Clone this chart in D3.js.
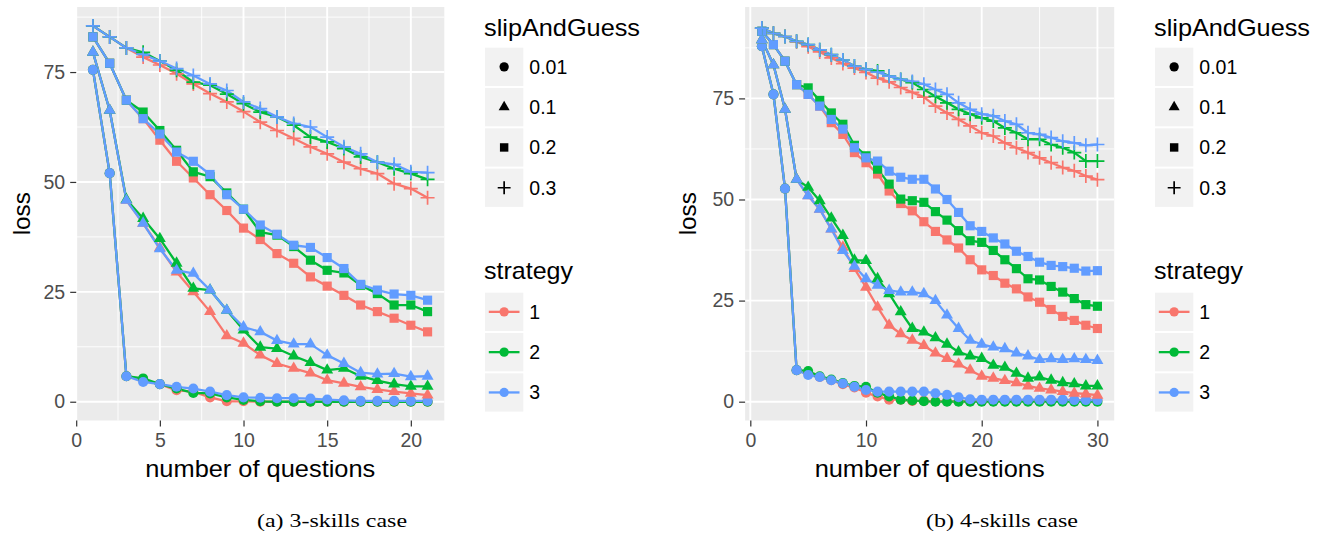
<!DOCTYPE html>
<html><head><meta charset="utf-8">
<script src="https://cdn.jsdelivr.net/npm/d3@7"></script>
<style>body{margin:0;background:#fff}svg{display:block}</style>
</head><body>
<svg id="c" width="1321" height="537"></svg>
<script>
// ---------- categories / ticks ----------
const questions3 = [1,2,3,4,5,6,7,8,9,10,11,12,13,14,15,16,17,18,19,20,21];
const questions4 = [1,2,3,4,5,6,7,8,9,10,11,12,13,14,15,16,17,18,19,20,21,22,23,24,25,26,27,28,29,30];
const strategies = ["1","2","3"];
const slipLevels = ["0.01","0.1","0.2","0.3"];
const yTicks = [0,25,50,75];
const yMinor = [12.5,37.5,62.5,87.5];
const xTicks3 = [0,5,10,15,20];
const xMinor3 = [2.5,7.5,12.5,17.5];
const xTicks4 = [0,10,20,30];
const xMinor4 = [5,15,25];

// ---------- 3-skills case (a) ----------
const loss3_s1_g001 = [75.5,52,5.8,5.0,4.0,2.6,2.3,1.0,0.1,0.1,0,0,0,0,0,0,0,0,0,0,0];
const loss3_s2_g001 = [75.5,52,5.8,5.3,4.0,3.0,2.0,1.9,1.0,0.4,0.1,0,0,0,0,0,0,0,0,0,0];
const loss3_s3_g001 = [75.5,52,5.8,4.5,4.0,3.4,3.0,2.3,1.5,1.0,0.9,0.8,0.8,0.7,0.5,0.3,0.2,0.2,0.2,0.2,0.2];
const loss3_s1_g01  = [79.5,66.3,45.8,40.6,35.0,29.5,25.0,20.5,15.0,13.3,10.6,8.7,7.6,6.5,4.9,4.2,3.4,2.8,2.3,1.9,1.5];
const loss3_s2_g01  = [79.5,66.3,46.0,41.7,37.1,31.5,25.8,25.4,20.8,16.3,12.4,12.1,10.4,8.9,7.2,7.6,5.8,4.8,4.0,3.5,3.5];
const loss3_s3_g01  = [79.5,66.3,45.8,40.6,34.8,29.9,29.2,25.4,20.8,17.0,15.9,13.9,13.1,13.1,10.6,8.7,6.6,6.3,6.4,5.7,5.8];
const loss3_s1_g02  = [83,77,68.6,64.4,59.5,54.7,50.9,47.1,43.5,39.5,36.9,33.7,31.5,28.4,26.3,24.2,22.0,20.5,19.0,17.4,15.9];
const loss3_s2_g02  = [83,77,68.6,65.9,61.7,57.2,52.3,51.2,47.5,43.8,38.6,37.9,35.3,32.2,29.9,29.3,26.5,24.6,22.0,22.0,20.5];
const loss3_s3_g02  = [83,77,68.6,64.4,60.9,56.8,54.7,51.7,47.1,43.8,40.2,38.1,35.6,35.1,32.8,30.3,26.7,25.4,24.5,24.2,23.1];
const loss3_s1_g03  = [85.5,83,80.5,78.4,76.6,74.6,72.3,70.1,68.2,66.0,63.6,61.7,59.9,58.0,56.4,54.5,53.0,51.9,49.6,48.5,46.4];
const loss3_s2_g03  = [85.5,83,80.5,79.5,77.5,75.4,72.7,72.0,70.0,67.8,65.9,64.8,62.9,60.2,59.1,57.6,55.7,54.5,53.0,51.9,50.6];
const loss3_s3_g03  = [85.5,83,80.5,79.0,77.5,75.8,74.2,72.3,70.8,68.2,66.7,64.8,63.3,62.5,60.2,58.0,56.4,54.5,54.0,52.3,52.1];

// ---------- 4-skills case (b) ----------
const loss4_s1_g001 = [87.9,76,52.7,7.8,7.2,6.1,5.3,4.3,3.5,2.2,1.3,0.5,0.5,0.2,0.2,0.1,0.1,0.1,0.1,0.1,0.2,0.2,0.2,0.2,0.2,0.3,0.3,0.4,0.4,0.4];
const loss4_s2_g001 = [87.9,76,52.7,7.8,7.6,6.3,5.5,4.6,3.9,3.7,2.2,1.3,0.5,0.3,0.1,0,0,0,0,0,0,0,0,0,0,0,0,0,0,0];
const loss4_s3_g001 = [87.9,76,52.7,7.8,6.6,6.1,5.3,4.5,3.7,2.9,2.5,2.5,2.5,2.5,2.5,2.1,1.7,1.1,0.6,0.5,0.5,0.5,0.5,0.5,0.5,0.5,0.5,0.4,0.4,0.4];
const loss4_s1_g01  = [89.5,83.3,72.3,55,50.9,47.6,42.7,38.2,32.9,28.3,23.4,18.9,16.8,15.2,13.9,12.0,10.7,9.3,7.8,6.3,5.8,5.2,4.7,3.9,3.3,2.9,2.5,2.1,1.9,1.6];
const loss4_s2_g01  = [89.5,83.3,72.3,55,53.0,49.7,45.4,41.1,35.0,34.9,30.4,26.7,22.2,18.1,17.2,15.8,14.2,12.3,11.3,10.7,9.0,8.5,7.0,5.8,6.1,5.3,4.7,4.4,3.9,3.9];
const loss4_s3_g01  = [89.5,83.3,72.3,55,50.9,47.6,42.7,37.4,33.5,30.4,28.8,27.5,27.1,27.1,26.7,25.0,21.4,18.1,15.2,14.2,13.5,13.1,12.0,11.3,10.4,10.6,10.4,10.6,10.4,10.2];
const loss4_s1_g02  = [91.6,88.3,84.2,78.4,76.0,73.1,69.0,66.1,61.6,59.1,56.3,52.1,49.0,47.2,44.5,42.1,40.0,38.0,35.1,32.6,31.2,29.3,27.9,25.9,24.6,22.8,21.1,20.1,18.9,18.1];
const loss4_s2_g02  = [91.6,88.3,84.2,78.4,77.6,74.5,71.4,68.6,63.4,60.8,57.5,53.8,50.1,49.7,49.3,47.0,44.9,42.3,39.8,39.4,37.4,35.1,32.9,30.4,30.1,28.5,27.1,25.5,24.0,23.6];
const loss4_s3_g02  = [91.6,88.3,84.2,78.4,76.0,73.1,69.8,67.4,62.8,60.3,59.5,57.0,55.5,55.0,55.0,52.6,50.0,46.8,43.5,42.1,40.5,39.0,37.2,35.9,34.5,33.7,33.4,33.0,32.3,32.4];
const loss4_s1_g03  = [92.4,91.1,90.3,89.0,87.8,86.5,85.0,83.6,82.5,81.4,80.0,79.1,77.7,76.5,75.3,73.1,71.4,69.8,68.2,66.5,65.7,64.0,62.8,61.6,60.3,59.1,57.9,57.1,55.8,54.9];
const loss4_s2_g03  = [92.4,91.1,90.3,89.1,88.3,87.0,85.8,84.5,83.0,82.2,81.8,80.5,79.7,78.9,77.2,75.5,73.9,72.3,71.1,70.2,69.4,67.7,66.5,64.9,64.9,63.6,62.8,61.6,59.5,59.5];
const loss4_s3_g03  = [92.4,91.1,90.3,89.1,88.3,87.0,85.8,84.5,83.0,82.2,81.5,80.5,79.7,79.2,78.5,77.2,76.0,73.9,72.3,71.1,70.7,69.4,68.6,66.5,66.1,65.3,64.4,64.0,63.4,63.6];

const series3 = [
  ["1","0.01",loss3_s1_g001],["2","0.01",loss3_s2_g001],["3","0.01",loss3_s3_g001],
  ["1","0.1",loss3_s1_g01],["2","0.1",loss3_s2_g01],["3","0.1",loss3_s3_g01],
  ["1","0.2",loss3_s1_g02],["2","0.2",loss3_s2_g02],["3","0.2",loss3_s3_g02],
  ["1","0.3",loss3_s1_g03],["2","0.3",loss3_s2_g03],["3","0.3",loss3_s3_g03]
];
const series4 = [
  ["1","0.01",loss4_s1_g001],["2","0.01",loss4_s2_g001],["3","0.01",loss4_s3_g001],
  ["1","0.1",loss4_s1_g01],["2","0.1",loss4_s2_g01],["3","0.1",loss4_s3_g01],
  ["1","0.2",loss4_s1_g02],["2","0.2",loss4_s2_g02],["3","0.2",loss4_s3_g02],
  ["1","0.3",loss4_s1_g03],["2","0.3",loss4_s2_g03],["3","0.3",loss4_s3_g03]
];

// ---------- drawing ----------
const svg = d3.select("#c");
const color = d3.scaleOrdinal().domain(strategies).range(["#F8766D","#00BA38","#619CFF"]);
const symType = {"0.01": d3.symbolCircle, "0.1": d3.symbolTriangle, "0.2": d3.symbolSquare};
const symSize = {"0.01": 80, "0.1": 62, "0.2": 84};
const SANS = "'Liberation Sans', Arial, Helvetica, sans-serif";

function marker(g, slip, x, y, fill, k) {
  if (slip === "0.3") {
    const h = 7 * k;
    g.append("path").attr("d", `M${x-h},${y}H${x+h}M${x},${y-h}V${y+h}`)
      .attr("stroke", fill).attr("stroke-width", 1.7).attr("fill", "none");
  } else {
    g.append("path").attr("d", d3.symbol(symType[slip], symSize[slip] * k * k)())
      .attr("transform", `translate(${x},${y})`).attr("fill", fill);
  }
}

const panels = [
  {qs: questions3, series: series3, xDomain: [0, 22], yDomain: [-4.27, 89.8],
   left: 76.2, right: 444.3, xTicks: xTicks3, xMinor: xMinor3,
   legendX: 485, caption: "(a) 3-skills case", capX: 257, capW: 150, lossX: 30},
  {qs: questions4, series: series4, xDomain: [-0.45, 31.45], yDomain: [-4.65, 97.6],
   left: 745.1, right: 1114.2, xTicks: xTicks4, xMinor: xMinor4,
   legendX: 1155, caption: "(b) 4-skills case", capX: 926, capW: 152, lossX: 696}
];
const panelTop = 7, panelBottom = 420.5;

panels.forEach(p => {
  const x = d3.scaleLinear().domain(p.xDomain).range([p.left, p.right]);
  const y = d3.scaleLinear().domain(p.yDomain).range([panelBottom, panelTop]);
  const g = svg.append("g");

  g.append("rect").attr("x", p.left).attr("y", panelTop).attr("width", p.right - p.left)
    .attr("height", panelBottom - panelTop).attr("fill", "#EBEBEB");
  yMinor.forEach(v => g.append("line").attr("x1", p.left).attr("x2", p.right)
    .attr("y1", y(v)).attr("y2", y(v)).attr("stroke", "#fff").attr("stroke-width", 0.9));
  p.xMinor.forEach(v => g.append("line").attr("y1", panelTop).attr("y2", panelBottom)
    .attr("x1", x(v)).attr("x2", x(v)).attr("stroke", "#fff").attr("stroke-width", 0.9));
  yTicks.forEach(v => g.append("line").attr("x1", p.left).attr("x2", p.right)
    .attr("y1", y(v)).attr("y2", y(v)).attr("stroke", "#fff").attr("stroke-width", 1.9));
  p.xTicks.forEach(v => g.append("line").attr("y1", panelTop).attr("y2", panelBottom)
    .attr("x1", x(v)).attr("x2", x(v)).attr("stroke", "#fff").attr("stroke-width", 1.9));

  const xAxis = d3.axisBottom(x).tickValues(p.xTicks).tickSize(6).tickPadding(6).tickFormat(d3.format("d"));
  const gx = g.append("g").attr("transform", `translate(0,${panelBottom})`).call(xAxis);
  const yAxis = d3.axisLeft(y).tickValues(yTicks).tickSize(6).tickPadding(5).tickFormat(d3.format("d"));
  const gy = g.append("g").attr("transform", `translate(${p.left},0)`).call(yAxis);
  [gx, gy].forEach(a => {
    a.select(".domain").remove();
    a.selectAll(".tick line").attr("stroke", "#333").attr("stroke-width", 1.2);
    a.selectAll(".tick text").attr("fill", "#4D4D4D").style("font-family", SANS).style("font-size", "19.5px");
  });
  gx.selectAll(".tick text").attr("dy", "0.75em");

  const line = d3.line().x((d, i) => x(p.qs[i])).y(d => y(d));
  p.series.forEach(([s, slip, vals]) => {
    g.append("path").attr("d", line(vals)).attr("fill", "none")
      .attr("stroke", color(s)).attr("stroke-width", 2.3).attr("stroke-linejoin", "round");
  });
  p.series.forEach(([s, slip, vals]) => {
    vals.forEach((v, i) => marker(g, slip, x(p.qs[i]), y(v), color(s), 1));
  });

  g.append("text").attr("x", (p.left + p.right) / 2).attr("y", 477).attr("text-anchor", "middle")
    .style("font-family", SANS).style("font-size", "24px").attr("fill", "#000")
    .attr("textLength", 230).attr("lengthAdjust", "spacingAndGlyphs").text("number of questions");
  g.append("text").attr("transform", `translate(${p.lossX},${(panelTop + panelBottom) / 2}) rotate(-90)`)
    .attr("text-anchor", "middle").style("font-family", SANS).style("font-size", "24px")
    .attr("textLength", 43).attr("lengthAdjust", "spacingAndGlyphs").text("loss");

  const L = svg.append("g");
  const kx = p.legendX, ks = 38.3, pitch = 40.3;
  L.append("text").attr("x", kx - 1).attr("y", 36).style("font-family", SANS).style("font-size", "24px")
    .attr("textLength", 156).attr("lengthAdjust", "spacingAndGlyphs").text("slipAndGuess");
  slipLevels.forEach((sl, i) => {
    const ky = 47.7 + i * pitch;
    L.append("rect").attr("x", kx).attr("y", ky).attr("width", ks).attr("height", ks).attr("fill", "#F2F2F2");
    marker(L, sl, kx + ks / 2, ky + ks / 2, "#000", 0.92);
    L.append("text").attr("x", kx + ks + 6).attr("y", ky + ks / 2 + 7)
      .style("font-family", SANS).style("font-size", "19.5px").text(sl);
  });
  L.append("text").attr("x", kx - 1).attr("y", 279).style("font-family", SANS).style("font-size", "24px")
    .attr("textLength", 89).attr("lengthAdjust", "spacingAndGlyphs").text("strategy");
  strategies.forEach((s, i) => {
    const ky = 292.7 + i * pitch;
    L.append("rect").attr("x", kx).attr("y", ky).attr("width", ks).attr("height", ks).attr("fill", "#F2F2F2");
    L.append("line").attr("x1", kx + 3.8).attr("x2", kx + ks - 3.8).attr("y1", ky + ks / 2).attr("y2", ky + ks / 2)
      .attr("stroke", color(s)).attr("stroke-width", 2.3);
    L.append("path").attr("d", d3.symbol(d3.symbolCircle, 68)()).attr("transform", `translate(${kx + ks / 2},${ky + ks / 2})`)
      .attr("fill", color(s));
    L.append("text").attr("x", kx + ks + 6).attr("y", ky + ks / 2 + 7)
      .style("font-family", SANS).style("font-size", "19.5px").text(s);
  });

  svg.append("text").attr("x", p.capX).attr("y", 527).style("font-family", "'Liberation Serif', 'DejaVu Serif', serif")
    .style("font-size", "19.5px").attr("textLength", p.capW).attr("lengthAdjust", "spacingAndGlyphs").text(p.caption);
});
</script>
</body></html>
